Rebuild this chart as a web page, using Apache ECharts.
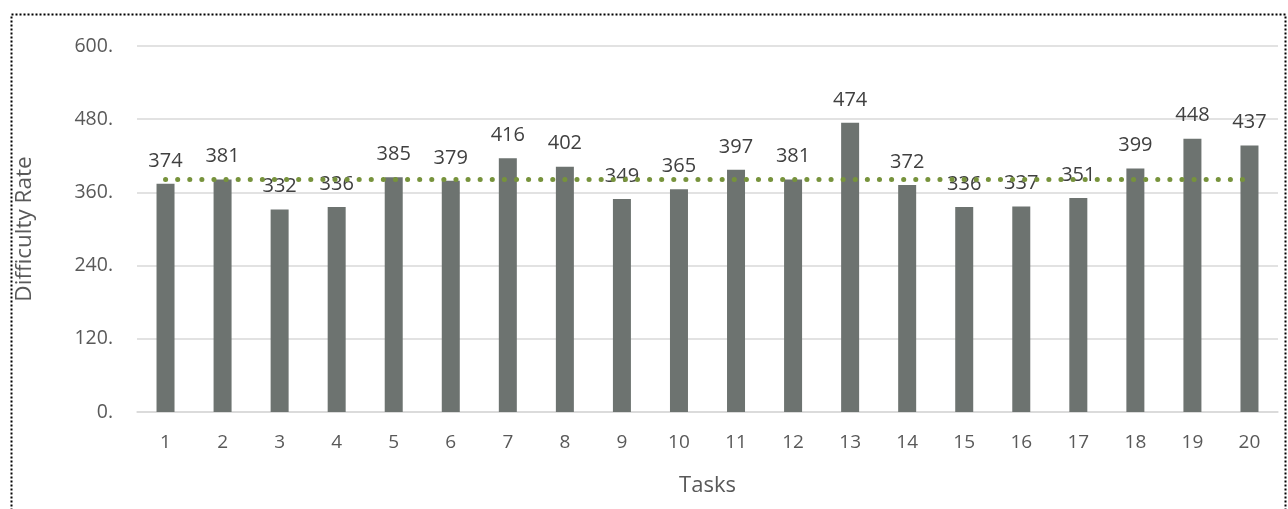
<!DOCTYPE html>
<html><head><meta charset="utf-8">
<script src="https://cdn.jsdelivr.net/npm/echarts@6/dist/echarts.min.js"></script>
<style>html,body{margin:0;padding:0;background:#fff}#c{width:1288px;height:509px}</style>
</head><body><div id="c"></div>
<script>
const categories = ['1','2','3','4','5','6','7','8','9','10','11','12','13','14','15','16','17','18','19','20'];
const difficulty = [374,381,332,336,385,379,416,402,349,365,397,381,474,372,336,337,351,399,448,437];
const average = [381,381,381,381,381,381,381,381,381,381,381,381,381,381,381,381,381,381,381,381];
const yTicks = [0,120,240,360,480,600];

const FONT = '"Open Sans", "Liberation Sans", sans-serif';
const chart = echarts.init(document.getElementById('c'), null, {renderer:'canvas'});
chart.setOption({
  animation:false,
  graphic:[{type:'rect', left:9, top:12, shape:{width:1274, height:520},
    style:{fill:'none', stroke:'#000', lineWidth:2, lineDash:[2,2]}, silent:true}],
  grid:{left:137, right:10, top:46, bottom:97},
  xAxis:{type:'category', data:categories, name:'Tasks', nameLocation:'middle', nameGap:63,
    nameTextStyle:{fontFamily:FONT, fontSize:22, color:'#595959'},
    axisLine:{lineStyle:{color:'#d9d9d9', width:1.5}}, axisTick:{show:false},
    axisLabel:{fontFamily:FONT, fontSize:19, color:'#595959', margin:21}},
  yAxis:{type:'value', min:0, max:600, interval:120, name:'Difficulty Rate', nameLocation:'middle', nameGap:101,
    nameTextStyle:{fontFamily:FONT, fontSize:22.5, color:'#595959'},
    axisLine:{show:false}, axisTick:{show:false},
    splitLine:{lineStyle:{color:'#d9d9d9', width:1.5}},
    axisLabel:{fontFamily:FONT, fontSize:19.5, color:'#595959', margin:24,
      formatter:v => yTicks.includes(v) ? v + '.' : ''}},
  series:[
    {type:'bar', data:difficulty, barWidth:18, itemStyle:{color:'#6d7370'},
     label:{show:true, position:'top', distance:13, fontFamily:FONT, fontSize:20, color:'#404040'}},
    {type:'line', data:average, symbol:'none', z:5,
     lineStyle:{color:'#77933c', width:5, type:[0.1,12], cap:'round'}}
  ]
});
</script></body></html>
